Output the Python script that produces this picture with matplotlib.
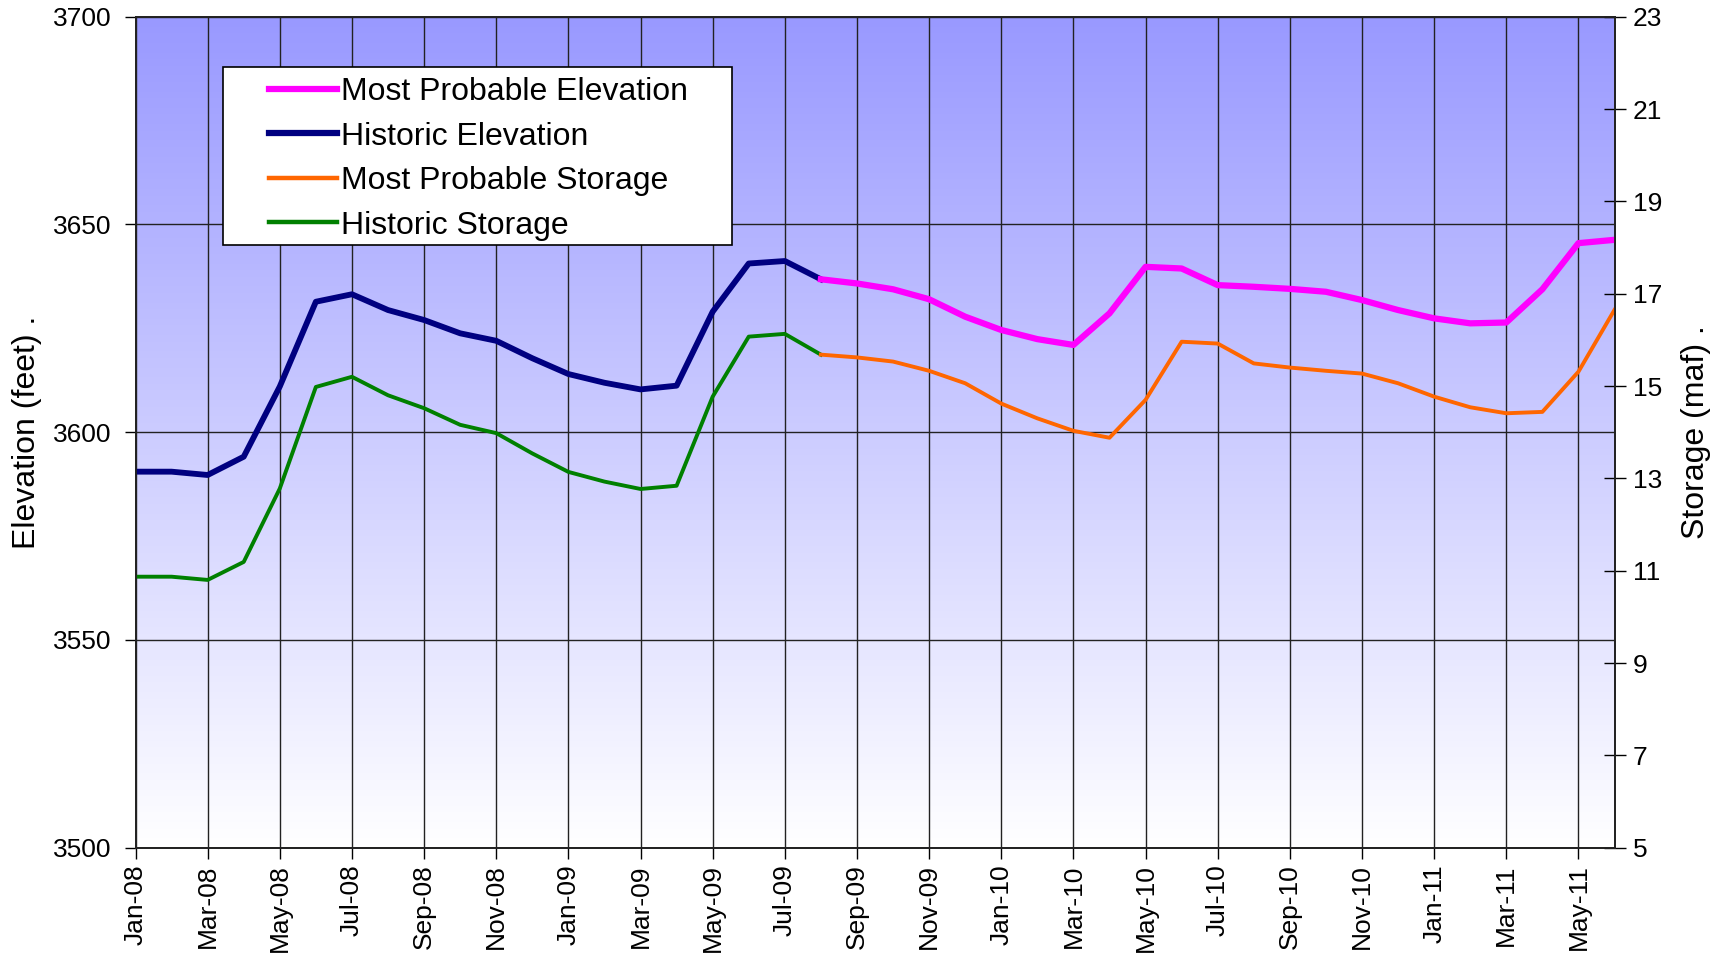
import matplotlib
matplotlib.use('Agg')
import matplotlib.pyplot as plt
import numpy as np
import pandas as pd
from matplotlib.patches import Rectangle
from matplotlib.lines import Line2D

plt.rcParams['font.family'] = ['Liberation Sans', 'DejaVu Sans']

# monthly categories Jan-08 .. Jun-11
months = list(pd.date_range('2008-01-01', '2011-06-01', freq='MS').strftime('%b-%y'))

# Historic (Jan-08 .. Aug-09)
hist_elev = [3590.5, 3590.5, 3589.7, 3594.1, 3611.0, 3631.4, 3633.2, 3629.4, 3627.0, 3623.8,
             3622.0, 3617.8, 3614.0, 3611.9, 3610.3, 3611.2, 3629.0, 3640.6, 3641.2, 3636.8]
hist_stor = [10.87, 10.87, 10.80, 11.19, 12.78, 14.98, 15.20, 14.80, 14.52, 14.16,
             13.98, 13.54, 13.14, 12.93, 12.77, 12.84, 14.77, 16.07, 16.13, 15.68]

# Most probable (Aug-09 .. Jun-11)
prob_elev = [3636.8, 3635.8, 3634.4, 3632.0, 3627.8, 3624.6, 3622.4, 3621.0, 3628.6, 3639.8,
             3639.4, 3635.4, 3635.0, 3634.5, 3633.8, 3631.8, 3629.4, 3627.4, 3626.2, 3626.4,
             3634.4, 3645.5, 3646.3]
prob_stor = [15.68, 15.62, 15.53, 15.33, 15.06, 14.62, 14.30, 14.03, 13.88, 14.70,
             15.96, 15.92, 15.49, 15.40, 15.33, 15.27, 15.06, 14.77, 14.54, 14.41,
             14.44, 15.31, 16.65]

x_hist = np.arange(len(hist_elev))
x_prob = np.arange(len(hist_elev) - 1, len(months))

W, H = 1727, 958
fig = plt.figure(figsize=(W / 100, H / 100), dpi=100)
ax = fig.add_axes([135.5 / W, 1 - 847.7 / H, (1614.5 - 135.5) / W, (847.7 - 16.7) / H])

# gradient background
grad = np.linspace(0, 1, 256)[:, None]
top = np.array([153, 153, 255]) / 255
bot = np.array([255, 255, 255]) / 255
img = top[None, None, :] * (1 - grad[:, :, None]) + bot[None, None, :] * grad[:, :, None]
ax.imshow(img, extent=(0, 1, 0, 1), transform=ax.transAxes, aspect='auto', zorder=0)

ax.set_xlim(0, len(months) - 1)
ax.set_ylim(3500, 3700)
ax.set_yticks([3500, 3550, 3600, 3650, 3700])
ax.set_xticks(np.arange(0, len(months), 2))
ax.set_xticklabels(months[::2], rotation=90)
ax.grid(True, color='#222222', linewidth=1.0)
ax.set_axisbelow(True)
ax.tick_params(axis='y', direction='out', length=8, width=1, labelsize=19, pad=9)
ax.tick_params(axis='x', direction='out', length=8, width=1, labelsize=19, pad=4)

ax.plot(x_hist, hist_elev, color='#000080', lw=4.2, zorder=3)
ax.plot(x_prob, prob_elev, color='#FF00FF', lw=4.5, zorder=3)

ax2 = ax.twinx()
ax2.set_ylim(5, 23)
ax2.set_yticks(range(5, 24, 2))
ax2.tick_params(axis='y', direction='inout', length=16, width=1, labelsize=19, pad=5)
ax2.plot(x_hist, hist_stor, color='#008000', lw=2.8)
ax2.plot(x_prob, prob_stor, color='#FF6600', lw=2.8)

for a in (ax, ax2):
    for s in a.spines.values():
        s.set_color('#222222')
        s.set_linewidth(1.3)

fig.text(27 / W, 1 - 432.5 / H, 'Elevation (feet) .', rotation=90, ha='center', va='center', fontsize=23)
fig.text(1695.8 / W, 1 - 432.5 / H, 'Storage (maf) .', rotation=90, ha='center', va='center', fontsize=23)

# legend
fig.patches.append(Rectangle((223 / W, 1 - 244.5 / H), (732 - 223) / W, (244.5 - 66.7) / H,
                             transform=fig.transFigure, facecolor='white', edgecolor='black',
                             linewidth=1.2, zorder=3))
handles = [Line2D([], [], color='#FF00FF', lw=4.5),
           Line2D([], [], color='#000080', lw=4.5),
           Line2D([], [], color='#FF6600', lw=3.2),
           Line2D([], [], color='#008000', lw=3.2)]
labels = ['Most Probable Elevation', 'Historic Elevation', 'Most Probable Storage', 'Historic Storage']
fig.legend(handles, labels, loc='upper left', bbox_to_anchor=(253 / W, 1 - 61 / H),
           frameon=False, fontsize=23, borderpad=0, handlelength=2.13, handletextpad=0.13,
           labelspacing=0.455)

fig.savefig('out.png', dpi=100)
